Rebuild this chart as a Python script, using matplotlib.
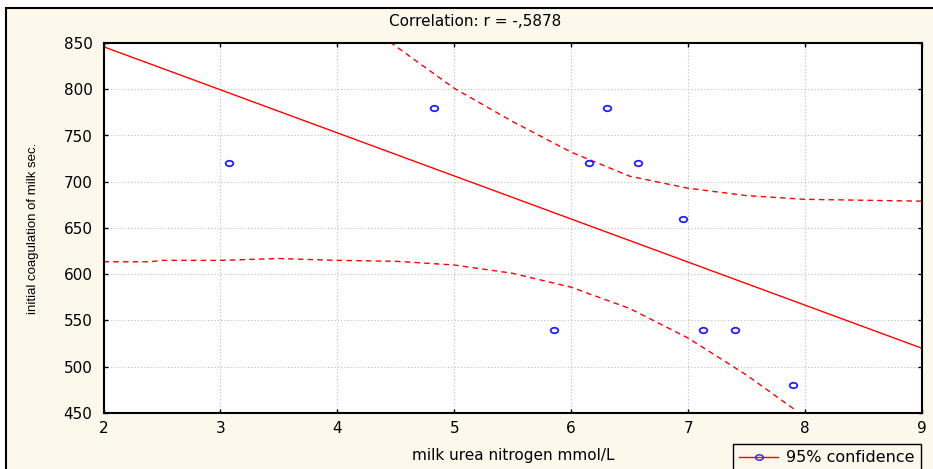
import matplotlib.pyplot as plt
from matplotlib.patches import Rectangle
from matplotlib.lines import Line2D
from matplotlib.path import Path
from matplotlib.transforms import Affine2D

plt.rcParams['font.family'] = ['DejaVu Sans']

# observed points (milk urea nitrogen, coagulation time)
mun = [3.07, 4.83, 6.31, 6.15, 6.57, 6.96, 5.85, 7.13, 7.40, 7.90]
coag = [720, 780, 780, 720, 720, 660, 540, 540, 540, 480]

# regression line
fit_x = [2.0, 9.0]
fit_y = [846, 520]

# 95% confidence band
upper_x = [4.45, 5.0, 5.5, 6.0, 6.5, 7.0, 7.5, 8.0, 8.5, 9.0]
upper_y = [851, 801, 765, 732, 706, 693, 685, 681, 680, 679]
lower_x = [2.0, 2.4, 2.5, 3.0, 3.5, 4.0, 4.5, 5.0, 5.5, 6.0, 6.5, 7.0, 7.5, 7.93]
lower_y = [613.5, 613.5, 615, 615, 617, 615, 614, 610, 601, 586, 563, 531, 491, 452]

x_ticks = [2, 3, 4, 5, 6, 7, 8, 9]
y_ticks = [450, 500, 550, 600, 650, 700, 750, 800, 850]

W, H = 933, 469
cream = '#fdf8ec'
# the original picture is stretched sideways, so the circles look like ellipses
ellipse = Affine2D().scale(1.4, 1.0).transform_path(Path.unit_circle())

fig = plt.figure(figsize=(W / 100, H / 100), dpi=100, facecolor='white')
# cream panel with black border (cropped at right / bottom)
fig.patches.append(Rectangle((6 / W, -0.05), 1.05, 1 - 8 / H + 0.05, transform=fig.transFigure,
                             facecolor=cream, edgecolor='black', linewidth=1.5, zorder=-10))

ax = fig.add_axes([103.5 / W, (H - 413) / H, (922 - 103.5) / W, 370 / H])
ax.set_facecolor('white')

ax.plot(fit_x, fit_y, color='red', linewidth=1)
ax.plot(upper_x, upper_y, color='red', linewidth=1, dashes=(4, 3))
ax.plot(lower_x, lower_y, color='red', linewidth=1, dashes=(4, 3))
ax.plot(mun, coag, linestyle='none', marker=ellipse, markersize=5.5,
        markerfacecolor='none', markeredgecolor='#2020ff', markeredgewidth=1.3)

ax.set_xlim(2, 9)
ax.set_ylim(450, 850)
ax.set_xticks(x_ticks)
ax.set_yticks(y_ticks)
ax.grid(True, color='#bbbbbb', linestyle=(0, (1, 2)), linewidth=0.8)
ax.tick_params(direction='in', length=3, width=1, top=True, right=True,
               labelsize=11, colors='black')
ax.tick_params(axis='y', pad=8)
ax.tick_params(axis='x', pad=6)
for s in ax.spines.values():
    s.set_linewidth(1.5)
    s.set_color('black')

fig.text(475 / W, 1 - 22 / H, 'Correlation: r = -,5878',
         ha='center', va='center', fontsize=11)
fig.text(513 / W, 1 - 455 / H, 'milk urea nitrogen mmol/L',
         ha='center', va='center', fontsize=11)
fig.text(33 / W, 1 - 228 / H, 'initial coagulation of milk sec.',
         ha='center', va='center', rotation=90, fontsize=9.5,
         family=['Liberation Sans', 'DejaVu Sans'])

handle = Line2D([], [], color='red', linewidth=1, marker=ellipse, markersize=5.5,
                markerfacecolor='none', markeredgecolor='#2020ff')
fig.legend([handle], ['95% confidence'], loc='upper left',
           bbox_to_anchor=(733 / W, 1 - 444 / H), borderaxespad=0,
           fancybox=False, edgecolor='black', framealpha=1, facecolor=cream,
           fontsize=11.5, handlelength=2.4, borderpad=0.4, handletextpad=0.5)

fig.savefig('out.png', dpi=100, facecolor='white')
